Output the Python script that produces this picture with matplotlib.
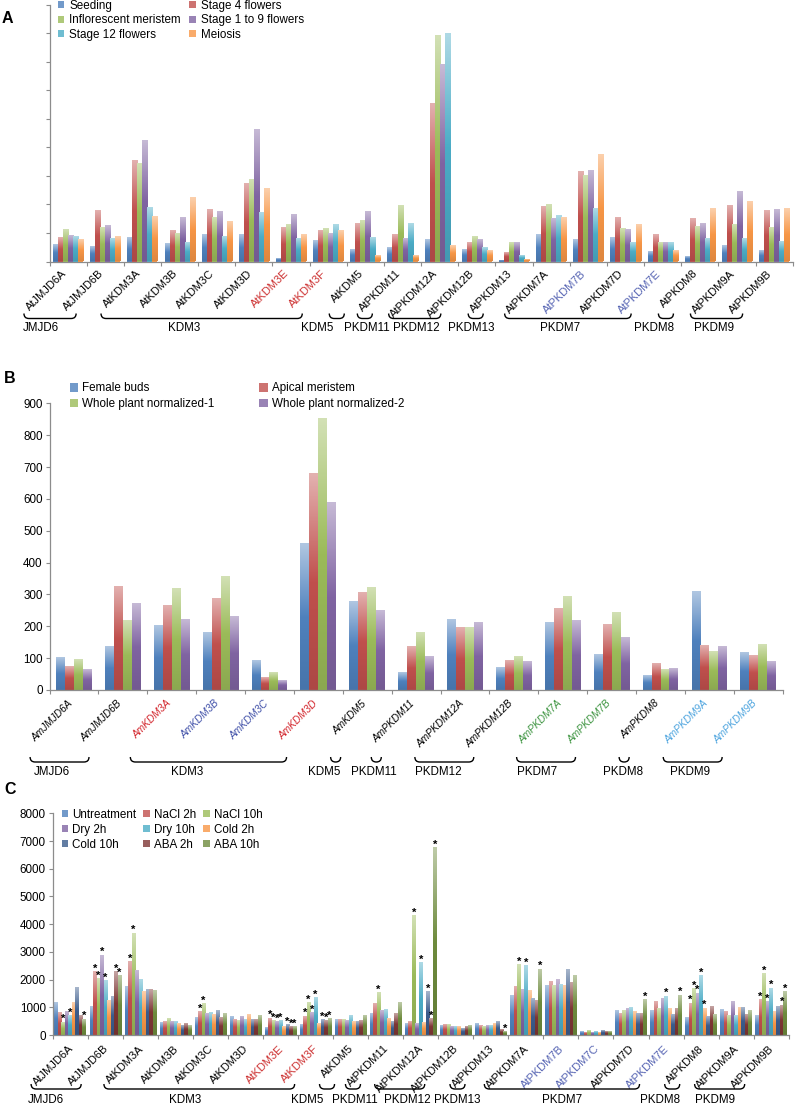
import numpy as np
import matplotlib
matplotlib.use('Agg')
import matplotlib.pyplot as plt
from matplotlib.colors import LinearSegmentedColormap, to_rgb
from matplotlib.patches import Patch, PathPatch
from matplotlib.path import Path

plt.rcParams['font.family'] = ['Liberation Sans', 'DejaVu Sans']

# ---------------- Panel A data ----------------
a_genes = ['AtJMJD6A', 'AtJMJD6B', 'AtKDM3A', 'AtKDM3B', 'AtKDM3C', 'AtKDM3D', 'AtKDM3E',
           'AtKDM3F', 'AtKDM5', 'AtPKDM11', 'AtPKDM12A', 'AtPKDM12B', 'AtPKDM13', 'AtPKDM7A',
           'AtPKDM7B', 'AtPKDM7D', 'AtPKDM7E', 'AtPKDM8', 'AtPKDM9A', 'AtPKDM9B']
a_series = ['Seeding', 'Stage 4 flowers', 'Inflorescent meristem', 'Stage 1 to 9 flowers',
            'Stage 12 flowers', 'Meiosis']
a_seeding = [0.58, 0.51, 0.84, 0.60, 0.92, 0.94, 0.09, 0.72, 0.40, 0.47, 0.74, 0.42, 0.03, 0.94,
             0.77, 0.81, 0.35, 0.17, 0.55, 0.37]
a_stage4 = [0.81, 1.78, 3.53, 1.06, 1.80, 2.70, 1.19, 1.06, 1.30, 0.92, 5.51, 0.66, 0.29, 1.90,
            3.15, 1.51, 0.93, 1.50, 1.93, 1.78]
a_inflor = [1.12, 1.16, 3.41, 0.95, 1.52, 2.87, 1.27, 1.13, 1.42, 1.94, 7.90, 0.87, 0.66, 1.99,
            3.01, 1.15, 0.65, 1.22, 1.27, 1.19]
a_stage19 = [0.91, 1.24, 4.23, 1.53, 1.72, 4.59, 1.64, 0.97, 1.72, 0.80, 6.88, 0.74, 0.66, 1.48,
             3.16, 1.12, 0.66, 1.33, 2.44, 1.80]
a_stage12 = [0.87, 0.78, 1.86, 0.64, 0.85, 1.69, 0.80, 1.27, 0.81, 1.30, 7.97, 0.49, 0.19, 1.58,
             1.83, 0.66, 0.65, 0.78, 0.78, 0.67]
a_meiosis = [0.77, 0.87, 1.55, 2.24, 1.38, 2.55, 0.93, 1.08, 0.19, 0.21, 0.53, 0.36, 0.05, 1.53,
             3.74, 1.29, 0.37, 1.84, 2.07, 1.83]
a_groups = [('JMJD6', 'AtJMJD6A', 'AtJMJD6B'), ('KDM3', 'AtKDM3A', 'AtKDM3F'),
            ('KDM5', 'AtKDM5', 'AtKDM5'), ('PKDM11', 'AtPKDM11', 'AtPKDM11'),
            ('PKDM12', 'AtPKDM12A', 'AtPKDM12B'), ('PKDM13', 'AtPKDM13', 'AtPKDM13'),
            ('PKDM7', 'AtPKDM7A', 'AtPKDM7E'), ('PKDM8', 'AtPKDM8', 'AtPKDM8'),
            ('PKDM9', 'AtPKDM9A', 'AtPKDM9B')]

# ---------------- Panel B data ----------------
b_genes = ['AmJMJD6A', 'AmJMJD6B', 'AmKDM3A', 'AmKDM3B', 'AmKDM3C', 'AmKDM3D', 'AmKDM5',
           'AmPKDM11', 'AmPKDM12A', 'AmPKDM12B', 'AmPKDM7A', 'AmPKDM7B', 'AmPKDM8',
           'AmPKDM9A', 'AmPKDM9B']
b_series = ['Female buds', 'Apical meristem', 'Whole plant normalized-1', 'Whole plant normalized-2']
b_female = [101, 137, 203, 180, 94, 461, 277, 56, 220, 70, 213, 113, 44, 309, 118]
b_apical = [75, 325, 264, 288, 38, 680, 305, 137, 195, 94, 256, 207, 82, 140, 109]
b_whole1 = [95, 219, 319, 357, 55, 852, 323, 181, 197, 106, 292, 244, 63, 122, 143]
b_whole2 = [63, 270, 220, 230, 31, 590, 250, 105, 212, 91, 219, 166, 68, 138, 91]
b_groups = [('JMJD6', 'AmJMJD6A', 'AmJMJD6B'), ('KDM3', 'AmKDM3A', 'AmKDM3D'),
            ('KDM5', 'AmKDM5', 'AmKDM5'), ('PKDM11', 'AmPKDM11', 'AmPKDM11'),
            ('PKDM12', 'AmPKDM12A', 'AmPKDM12B'), ('PKDM7', 'AmPKDM7A', 'AmPKDM7B'),
            ('PKDM8', 'AmPKDM8', 'AmPKDM8'), ('PKDM9', 'AmPKDM9A', 'AmPKDM9B')]

# ---------------- Panel C data ----------------
c_genes = ['AtJMJD6A', 'AtJMJD6B', 'AtKDM3A', 'AtKDM3B', 'AtKDM3C', 'AtKDM3D', 'AtKDM3E',
           'AtKDM3F', 'AtKDM5', 'AtPKDM11', 'AtPKDM12A', 'AtPKDM12B', 'AtPKDM13', 'AtPKDM7A',
           'AtPKDM7B', 'AtPKDM7C', 'AtPKDM7D', 'AtPKDM7E', 'AtPKDM8', 'AtPKDM9A', 'AtPKDM9B']
c_series = ['Untreatment', 'NaCl 2h', 'NaCl 10h', 'Dry 2h', 'Dry 10h', 'Cold 2h',
            'Cold 10h', 'ABA 2h', 'ABA 10h']
c_untreat = [1160, 1024, 1733, 440, 630, 655, 260, 374, 542, 790, 398, 340, 400, 1421, 1776,
             133, 867, 873, 645, 927, 716]
c_nacl2 = [810, 2280, 2640, 500, 840, 577, 610, 680, 542, 1150, 470, 374, 330, 1734, 1945,
           108, 788, 1216, 1150, 849, 1264]
c_nacl10 = [460, 2045, 3680, 613, 1130, 540, 520, 1180, 570, 1525, 4314, 374, 315, 2547, 1769,
            145, 897, 950, 1662, 705, 2203]
c_dry2 = [840, 2880, 2340, 500, 780, 660, 470, 800, 506, 892, 398, 320, 325, 1626, 1987,
          108, 963, 1331, 1511, 1204, 1210]
c_dry10 = [700, 1967, 1985, 505, 805, 560, 520, 1336, 711, 904, 2615, 320, 337, 2516, 1825,
           120, 987, 1403, 2143, 716, 1692]
c_cold2 = [1190, 1240, 1552, 397, 740, 733, 290, 410, 494, 578, 434, 320, 398, 1590, 1800,
           108, 860, 963, 970, 1005, 843]
c_cold10 = [1715, 1400, 1625, 336, 900, 570, 370, 566, 494, 494, 1566, 240, 480, 1300, 2348,
            157, 776, 722, 662, 981, 1011]
c_aba2 = [715, 2280, 1637, 397, 640, 550, 310, 506, 518, 771, 578, 310, 200, 1228, 1890,
          120, 788, 963, 1011, 752, 1077]
c_aba10 = [570, 2130, 1613, 348, 790, 710, 300, 578, 687, 1157, 6760, 330, 120, 2378, 2137,
           133, 1276, 1439, 750, 897, 1565]
# significance stars: gene indices per series
c_stars = {'NaCl 2h': [1, 2, 4, 6, 7, 18, 20],
           'NaCl 10h': [0, 1, 2, 4, 6, 7, 9, 10, 13, 18, 20],
           'Dry 2h': [1, 6, 7, 18, 20],
           'Dry 10h': [0, 1, 6, 7, 10, 13, 17, 18, 20],
           'Cold 2h': [18],
           'Cold 10h': [6, 7, 10],
           'ABA 2h': [1, 6, 7, 10, 20],
           'ABA 10h': [0, 1, 6, 7, 10, 12, 13, 16, 17, 20]}
c_groups = [('JMJD6', 'AtJMJD6A', 'AtJMJD6B'), ('KDM3', 'AtKDM3A', 'AtKDM3F'),
            ('KDM5', 'AtKDM5', 'AtKDM5'), ('PKDM11', 'AtPKDM11', 'AtPKDM11'),
            ('PKDM12', 'AtPKDM12A', 'AtPKDM12B'), ('PKDM13', 'AtPKDM13', 'AtPKDM13'),
            ('PKDM7', 'AtPKDM7A', 'AtPKDM7E'), ('PKDM8', 'AtPKDM8', 'AtPKDM8'),
            ('PKDM9', 'AtPKDM9A', 'AtPKDM9B')]

# ---------------- styling ----------------
RED_T = '#CC2E2E'
BLUE_T = '#5462B2'
label_colors = {'AtKDM3E': RED_T, 'AtKDM3F': RED_T, 'AtPKDM7B': BLUE_T, 'AtPKDM7C': BLUE_T,
                'AtPKDM7E': BLUE_T,
                'AmKDM3A': '#D2232A', 'AmKDM3D': '#D2232A', 'AmKDM3B': '#3F4FA8',
                'AmKDM3C': '#3F4FA8', 'AmPKDM7A': '#3D9440', 'AmPKDM7B': '#3D9440',
                'AmPKDM9A': '#4BA3DE', 'AmPKDM9B': '#4BA3DE'}
nudge_a = {'JMJD6': -9, 'KDM3': -18, 'KDM5': -20, 'PKDM11': 2, 'PKDM12': 2, 'PKDM13': -4,
           'PKDM7': -8, 'PKDM8': -12, 'PKDM9': -3}
nudge_b = {'JMJD6': -8, 'KDM3': -21, 'KDM5': -11, 'PKDM11': -2, 'PKDM12': -6, 'PKDM7': -9,
           'PKDM8': -1, 'PKDM9': -3}
nudge_c = {'JMJD6': -10, 'KDM3': -14, 'KDM5': -20, 'PKDM11': 2, 'PKDM12': 8, 'PKDM13': 0,
           'PKDM7': 0, 'PKDM8': -12, 'PKDM9': -5}

C6 = ['#4F81BD', '#C0504D', '#9BBB59', '#8064A2', '#4BACC6', '#F79646']
C9 = C6 + ['#3B5C8C', '#7E3634', '#6E8B3D']

W, H = 795, 1107
fig = plt.figure(figsize=(W / 100, H / 100), dpi=100)
GRAY = '#8C8C8C'
FS = 8.4


def fbox(l, t, r, b):
    return [l / W, 1 - b / H, (r - l) / W, (b - t) / H]


def mix(c, f):
    c = np.array(to_rgb(c))
    return tuple(c + (1 - c) * f)


def gradient_fill(ax, bars, color):
    base = np.array(to_rgb(color))
    cmap = LinearSegmentedColormap.from_list(
        'g', [tuple(base * 0.9), tuple(base), mix(color, 0.55)])
    g = np.linspace(0, 1, 64).reshape(-1, 1)
    for p in bars:
        x0, w, h = p.get_x(), p.get_width(), p.get_height()
        if h <= 0:
            continue
        ax.imshow(g, extent=(x0, x0 + w, 0, h), origin='lower', cmap=cmap, aspect='auto',
                  interpolation='bilinear', zorder=2.5)


def draw_panel(ax, genes, values, colors, frac, ymax, yticks, show_ylab, lab_kw, pad, shift_px):
    n, m = len(genes), len(values)
    bw = frac / m
    xc = np.arange(n) + 0.5
    conts = []
    for j, (vals, col) in enumerate(zip(values, colors)):
        bars = ax.bar(xc + (j - (m - 1) / 2) * bw, vals, width=bw, color=col, linewidth=0,
                      zorder=2)
        gradient_fill(ax, bars, col)
        conts.append(bars)
    ax.set_xlim(0, n)
    ax.set_ylim(0, ymax)
    ax.set_aspect('auto')
    for s in ['top', 'right']:
        ax.spines[s].set_visible(False)
    for s in ['left', 'bottom']:
        ax.spines[s].set_color(GRAY)
        ax.spines[s].set_linewidth(0.9)
    ax.set_yticks(yticks)
    ax.tick_params(axis='y', direction='out', length=3, width=0.8, color=GRAY, labelsize=FS,
                   pad=2, labelleft=show_ylab)
    ax.set_xticks(np.arange(n + 1), minor=True)
    ax.tick_params(axis='x', which='minor', direction='out', length=3, width=0.8, color=GRAY)
    # label anchor slightly left of the category centre (zero-length ticks)
    cat_px = ax.get_position().width * W / n
    ax.set_xticks(xc - shift_px / cat_px)
    ax.set_xticklabels(genes, rotation=45, ha='right', va='top', rotation_mode='anchor', **lab_kw)
    ax.tick_params(axis='x', which='major', length=0, pad=pad)
    for lab, g in zip(ax.get_xticklabels(), genes):
        lab.set_color(label_colors.get(g, 'black'))
    ax.set_facecolor('none')
    return conts


def legend(labels, colors, ncol, x, y, hl, htp, cs, ls):
    handles = [Patch(facecolor=mix(c, 0.2), edgecolor='none') for c in colors]
    nrow = int(np.ceil(len(labels) / ncol))
    order = [r * ncol + c for c in range(ncol) for r in range(nrow) if r * ncol + c < len(labels)]
    fig.legend([handles[i] for i in order], [labels[i] for i in order], ncol=ncol,
               loc='upper left', bbox_to_anchor=(x / W, 1 - y / H), frameon=False, fontsize=FS,
               handlelength=hl, handleheight=hl, handletextpad=htp, columnspacing=cs,
               labelspacing=ls, borderpad=0, borderaxespad=0)


def brace(x0, x1, yt, yb):
    r = min(5.0, (x1 - x0) / 2)
    verts = [(x0, yt), (x0, yb), (x0 + r, yb), (x1 - r, yb), (x1, yb), (x1, yt)]
    codes = [Path.MOVETO, Path.CURVE3, Path.CURVE3, Path.LINETO, Path.CURVE3, Path.CURVE3]
    vf = [(vx / W, 1 - vy / H) for vx, vy in verts]
    fig.add_artist(PathPatch(Path(vf, codes), fill=False, lw=1.0, edgecolor='black',
                             transform=fig.transFigure))


# ---------------- axes ----------------
axA = fig.add_axes(fbox(49.5, 4.5, 792.7, 261.5))
axB = fig.add_axes(fbox(49.5, 403.3, 782.7, 690))
axC = fig.add_axes(fbox(52.7, 813.3, 788.7, 1035))

draw_panel(axA, a_genes, [a_seeding, a_stage4, a_inflor, a_stage19, a_stage12, a_meiosis], C6,
           0.81, 9, np.arange(0, 10), False, dict(fontsize=8.0), 5.0, 7)
draw_panel(axB, b_genes, [b_female, b_apical, b_whole1, b_whole2], C6[:4], 0.73, 900,
           np.arange(0, 901, 100), True, dict(fontsize=7.3, fontstyle='italic'), 6.0, 6)
c_values = [c_untreat, c_nacl2, c_nacl10, c_dry2, c_dry10, c_cold2, c_cold10, c_aba2, c_aba10]
c_conts = draw_panel(axC, c_genes, c_values, C9, 0.9, 8000, np.arange(0, 8001, 1000), True,
                     dict(fontsize=8.0), 6.2, 2)

for j, name in enumerate(c_series):
    for gi in c_stars.get(name, []):
        p = c_conts[j][gi]
        axC.annotate('*', (p.get_x() + p.get_width() / 2, p.get_height()), xytext=(0, -1.5),
                     textcoords='offset points', ha='center', va='bottom', fontsize=8,
                     fontweight='bold', zorder=5, annotation_clip=False)

legend(a_series, C6, 2, 57.5, 0.0, 0.56, 0.43, 0.75, 0.2)
legend(b_series, C6[:4], 2, 69.5, 382.5, 0.71, 0.36, 3.86, 0.28)
legend(c_series, C9, 3, 61.5, 809.0, 0.57, 0.34, 0.6, 0.24)

fig.text(2 / W, 1 - 18.5 / H, 'A', fontsize=11.5, fontweight='bold', va='center', ha='left')
fig.text(4 / W, 1 - 378.5 / H, 'B', fontsize=11.5, fontweight='bold', va='center', ha='left')
fig.text(4 / W, 1 - 789.5 / H, 'C', fontsize=11.5, fontweight='bold', va='center', ha='left')

# ---------------- braces & group labels ----------------
fig.canvas.draw()
renderer = fig.canvas.get_renderer()


def add_groups(ax, genes, groups, yt, yb, ylab, extra, nudge, gkw):
    labs = {g: lab for g, lab in zip(genes, ax.get_xticklabels())}
    for name, g0, g1 in groups:
        x0 = labs[g0].get_window_extent(renderer).x0
        x1 = labs[g1].get_window_extent(renderer).x0 + extra
        brace(x0, x1, yt, yb)
        xm = (x0 + x1) / 2 + nudge.get(name, 0)
        fig.text(xm / W, 1 - ylab / H, name, ha='center', va='center', fontsize=FS, **gkw)


add_groups(axA, a_genes, a_groups, 313.5, 318.5, 327.5, 15, nudge_a, {})
add_groups(axB, b_genes, b_groups, 757, 762, 772, 10, nudge_b, {})
add_groups(axC, c_genes, c_groups, 1084, 1089, 1100, 15, nudge_c, {})

fig.savefig('out.png', dpi=100, facecolor='white')
